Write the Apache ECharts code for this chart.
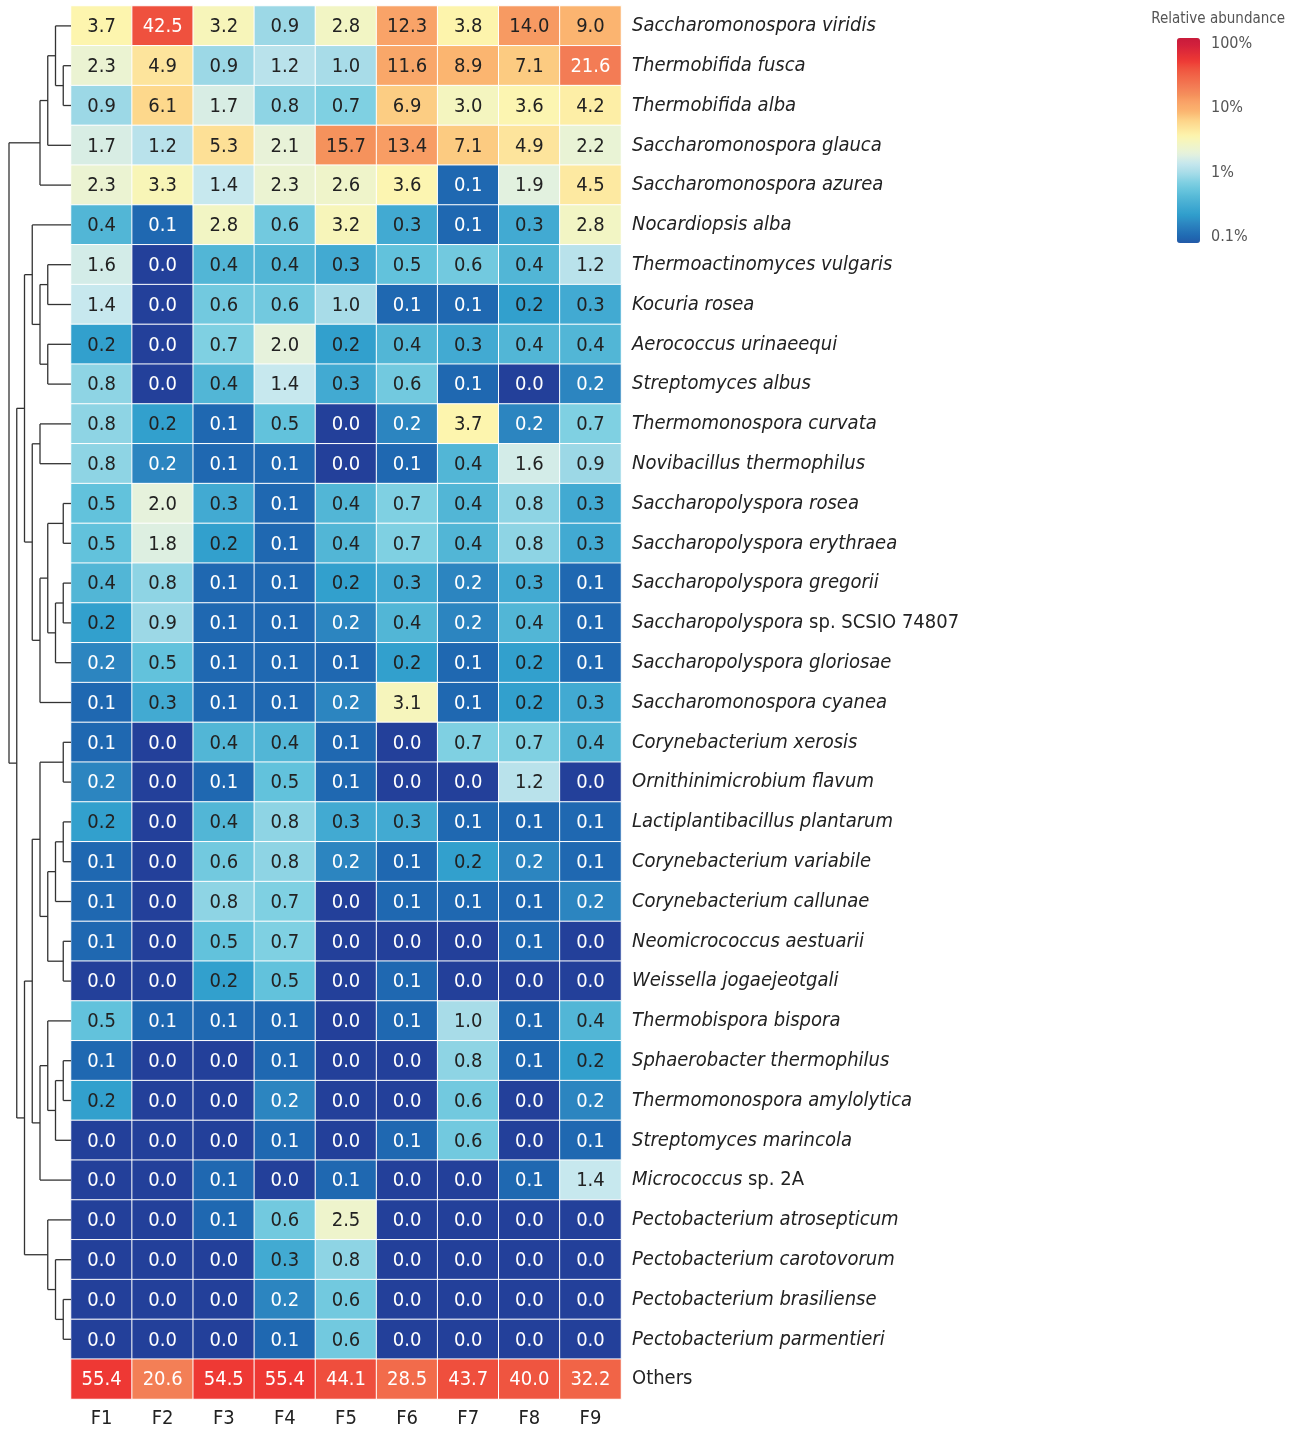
<!DOCTYPE html>
<html>
<head>
<meta charset="utf-8">
<script src="https://cdn.jsdelivr.net/npm/echarts@6/dist/echarts.min.js"></script>
<style>
html,body{margin:0;padding:0;background:#fff;}
#chart{width:1300px;height:1431px;}
</style>
</head>
<body>
<div id="chart"></div>
<script>
// ---------------- DATA ----------------
const samples = ['F1','F2','F3','F4','F5','F6','F7','F8','F9'];
const species = [
  'Saccharomonospora viridis','Thermobifida fusca','Thermobifida alba','Saccharomonospora glauca','Saccharomonospora azurea',
  'Nocardiopsis alba','Thermoactinomyces vulgaris','Kocuria rosea','Aerococcus urinaeequi','Streptomyces albus',
  'Thermomonospora curvata','Novibacillus thermophilus','Saccharopolyspora rosea','Saccharopolyspora erythraea','Saccharopolyspora gregorii',
  'Saccharopolyspora sp. SCSIO 74807','Saccharopolyspora gloriosae','Saccharomonospora cyanea','Corynebacterium xerosis','Ornithinimicrobium flavum',
  'Lactiplantibacillus plantarum','Corynebacterium variabile','Corynebacterium callunae','Neomicrococcus aestuarii','Weissella jogaejeotgali',
  'Thermobispora bispora','Sphaerobacter thermophilus','Thermomonospora amylolytica','Streptomyces marincola','Micrococcus sp. 2A',
  'Pectobacterium atrosepticum','Pectobacterium carotovorum','Pectobacterium brasiliense','Pectobacterium parmentieri','Others'
];
// relative abundance (%) per sample, rows in species order
const F1 = [3.7,2.3,0.9,1.7,2.3,0.4,1.6,1.4,0.23,0.8,
            0.8,0.8,0.5,0.5,0.4,0.23,0.16,0.1,0.1,0.16,
            0.23,0.1,0.1,0.1,0.0,0.5,0.1,0.23,0.0,0.0,
            0.0,0.0,0.0,0.0,55.4];
const F2 = [42.5,4.9,6.1,1.2,3.3,0.1,0.0,0.0,0.0,0.0,
            0.23,0.16,2.0,1.8,0.8,0.9,0.5,0.3,0.0,0.0,
            0.0,0.0,0.0,0.0,0.0,0.1,0.0,0.0,0.0,0.0,
            0.0,0.0,0.0,0.0,20.6];
const F3 = [3.2,0.9,1.7,5.3,1.4,2.8,0.4,0.6,0.7,0.4,
            0.1,0.1,0.3,0.23,0.1,0.1,0.1,0.1,0.4,0.1,
            0.4,0.6,0.8,0.5,0.23,0.1,0.0,0.0,0.0,0.1,
            0.1,0.0,0.0,0.0,54.5];
const F4 = [0.9,1.2,0.8,2.1,2.3,0.6,0.4,0.6,2.0,1.4,
            0.5,0.1,0.1,0.1,0.1,0.1,0.1,0.1,0.4,0.5,
            0.8,0.8,0.7,0.7,0.5,0.1,0.1,0.16,0.1,0.0,
            0.6,0.3,0.16,0.1,55.4];
const F5 = [2.8,1.0,0.7,15.7,2.6,3.2,0.3,1.0,0.23,0.3,
            0.0,0.0,0.4,0.4,0.23,0.16,0.1,0.16,0.1,0.1,
            0.3,0.16,0.0,0.0,0.0,0.0,0.0,0.0,0.0,0.1,
            2.5,0.8,0.6,0.6,44.1];
const F6 = [12.3,11.6,6.9,13.4,3.6,0.3,0.5,0.1,0.4,0.6,
            0.16,0.1,0.7,0.7,0.3,0.4,0.23,3.1,0.0,0.0,
            0.3,0.1,0.1,0.0,0.1,0.1,0.0,0.0,0.1,0.0,
            0.0,0.0,0.0,0.0,28.5];
const F7 = [3.8,8.9,3.0,7.1,0.1,0.1,0.6,0.1,0.3,0.1,
            3.7,0.4,0.4,0.4,0.16,0.16,0.1,0.1,0.7,0.0,
            0.1,0.23,0.1,0.0,0.0,1.0,0.8,0.6,0.6,0.0,
            0.0,0.0,0.0,0.0,43.7];
const F8 = [14.0,7.1,3.6,4.9,1.9,0.3,0.4,0.23,0.4,0.0,
            0.16,1.6,0.8,0.8,0.3,0.4,0.23,0.23,0.7,1.2,
            0.1,0.16,0.1,0.1,0.0,0.1,0.1,0.0,0.0,0.1,
            0.0,0.0,0.0,0.0,40.0];
const F9 = [9.0,21.6,4.2,2.2,4.5,2.8,1.2,0.3,0.4,0.16,
            0.7,0.9,0.3,0.3,0.1,0.1,0.1,0.3,0.4,0.0,
            0.1,0.1,0.16,0.0,0.0,0.4,0.23,0.16,0.1,1.4,
            0.0,0.0,0.0,0.0,32.2];
const legendTicks = [0.1, 1, 10, 100];
// hierarchical clustering of the 34 taxa (Others excluded): [childA, childB, height]
// leaves are 0..33, merged node k gets id 34+k
const linkage = [
  [1,2,1],[0,34,2],[35,3,3],[36,4,4],
  [6,7,3],[8,9,3],[38,39,4],[5,40,5],
  [10,11,4],[12,13,1],[14,15,1],[44,16,2],[43,45,3],[46,17,4],[42,47,5],[41,48,6],
  [18,19,1],[20,21,1],[51,22,2],[23,24,1],[52,53,3],[50,54,4],
  [26,27,1],[56,28,2],[25,57,3],[58,29,4],[55,59,5],
  [32,33,1],[31,61,2],[30,62,3],[60,63,6],
  [49,64,7],[37,65,8]
];

// ---------------- STYLE ----------------
const FONT = "'Liberation Sans Narrow','DejaVu Sans Condensed','Noto Sans',sans-serif";
const colorStops = [
  [-1.3,'#23409a'],[-1.15,'#2650a2'],[-1.0,'#1f68b1'],[-0.8,'#2c84c0'],[-0.66,'#2f9ecc'],
  [-0.52,'#42aad2'],[-0.4,'#52b6d6'],[-0.3,'#62c2dc'],[-0.15,'#80d0e2'],[0,'#a8dce8'],
  [0.15,'#c8e8ee'],[0.3,'#e6f2dc'],[0.45,'#f2f5c4'],[0.57,'#fdf5ae'],[0.7,'#fde39a'],
  [0.8,'#fdd68a'],[0.95,'#fbb570'],[1.1,'#f9a267'],[1.2,'#f5915c'],[1.33,'#f37d55'],
  [1.5,'#f16548'],[1.63,'#ef513e'],[1.74,'#ee3834'],[2.0,'#d01f3c'],[2.1,'#c81b3a']
];
function hex2rgb(h){return [parseInt(h.substr(1,2),16),parseInt(h.substr(3,2),16),parseInt(h.substr(5,2),16)];}
function colorAt(t){
  const s = colorStops;
  if (t <= s[0][0]) return s[0][1];
  if (t >= s[s.length-1][0]) return s[s.length-1][1];
  for (let i=0;i<s.length-1;i++){
    if (t>=s[i][0] && t<=s[i+1][0]){
      const f=(t-s[i][0])/(s[i+1][0]-s[i][0]);
      const a=hex2rgb(s[i][1]), b=hex2rgb(s[i+1][1]);
      const c=a.map((v,k)=>Math.round(v+(b[k]-v)*f));
      return 'rgb('+c.join(',')+')';
    }
  }
}

// ---------------- BUILD ----------------
const columns = [F1,F2,F3,F4,F5,F6,F7,F8,F9];
const heatData = [];
columns.forEach((col, c) => {
  col.forEach((v, r) => {
    const t = Math.min(2.1, Math.max(-1.3, Math.log10(v)));
    const white = (t < -0.72 || t > 1.28);
    heatData.push({
      value: [c, r, v],
      itemStyle: { color: colorAt(t) },
      label: { color: white ? '#ffffff' : '#222222' }
    });
  });
});

// dendrogram segments from linkage
const nLeaves = 34;
const nodePos = {};
for (let i=0;i<nLeaves;i++) nodePos[i] = {x:0, y:i+0.5};
const segs = [];
linkage.forEach((m, k) => {
  const a = nodePos[m[0]], b = nodePos[m[1]], h = m[2];
  segs.push([a.x, a.y, h, a.y]);
  segs.push([b.x, b.y, h, b.y]);
  segs.push([h, a.y, h, b.y]);
  nodePos[nLeaves+k] = {x:h, y:(a.y+b.y)/2};
});

const legMin = -1.093, legMax = 2.093;
const palette = [];
for (let i=0;i<=60;i++) palette.push(colorAt(legMin + (legMax-legMin)*i/60));

function fmtName(n){
  if (n === 'Others') return '{n|Others}';
  const idx = n.indexOf(' sp. ');
  if (idx >= 0) return '{i|' + n.slice(0, idx) + '} {n|' + n.slice(idx+1) + '}';
  return '{i|' + n + '}';
}

const chart = echarts.init(document.getElementById('chart'));
chart.setOption({
  animation: false,
  backgroundColor: '#ffffff',
  title: {
    text: 'Relative abundance', right: 10, top: 7,
    textStyle: {fontFamily: FONT, fontSize: 15, fontWeight: 'normal', color: '#555'}
  },
  grid: [
    {left: 71, top: 6, width: 550, height: 1393},
    {left: 0, top: 6, width: 71, height: 1393},
    {left: 1196, top: 44, width: 4, height: 193}
  ],
  xAxis: [
    {type: 'category', data: samples, gridIndex: 0, position: 'bottom',
     axisLine: {show: false}, axisTick: {show: false}, splitLine: {show: false},
     axisLabel: {fontFamily: FONT, fontSize: 20, color: '#222', margin: 10}},
    {type: 'value', gridIndex: 1, min: 0, max: 71/7.75, inverse: true, show: false},
    {type: 'value', gridIndex: 2, min: 0, max: 1, show: false}
  ],
  yAxis: [
    {type: 'category', data: species, gridIndex: 0, inverse: true, position: 'right',
     axisLine: {show: false}, axisTick: {show: false}, splitLine: {show: false},
     axisLabel: {margin: 11, formatter: fmtName, color: '#222', fontFamily: FONT, fontSize: 20,
       rich: {
         i: {fontFamily: FONT, fontSize: 20, fontStyle: 'italic', color: '#222'},
         n: {fontFamily: FONT, fontSize: 20, fontStyle: 'normal', color: '#222'}
       }}},
    {type: 'value', gridIndex: 1, min: 0, max: species.length, inverse: true, show: false},
    {type: 'log', logBase: 10, gridIndex: 2, min: legendTicks[0], max: legendTicks[legendTicks.length-1],
     position: 'right',
     axisLine: {show: false}, splitLine: {show: false},
     axisTick: {show: true, length: 4, lineStyle: {color: '#333', width: 1}},
     axisLabel: {margin: 11, fontFamily: FONT, fontSize: 16, color: '#555',
       formatter: v => Number(v.toPrecision(3)) + '%'}}
  ],
  visualMap: {
    type: 'continuous', min: legMin, max: legMax, seriesIndex: 2,
    left: 1177, top: 38, itemWidth: 23, itemHeight: 205, padding: 0,
    calculable: false, hoverLink: false, text: null, showLabel: false,
    inRange: {color: palette}
  },
  series: [
    {
      type: 'heatmap', xAxisIndex: 0, yAxisIndex: 0, data: heatData,
      itemStyle: {borderColor: '#ffffff', borderWidth: 1},
      label: {show: true, fontFamily: FONT, fontSize: 20, offset: [0, 1],
        formatter: p => p.data.value[2].toFixed(1)},
      emphasis: {disabled: true}
    },
    {
      type: 'custom', xAxisIndex: 1, yAxisIndex: 1, data: segs,
      encode: {x: [0, 2], y: [1, 3]},
      renderItem: function(params, api){
        const p1 = api.coord([api.value(0), api.value(1)]);
        const p2 = api.coord([api.value(2), api.value(3)]);
        return {type: 'line', shape: {x1: p1[0], y1: p1[1], x2: p2[0], y2: p2[1]},
                style: {stroke: '#333', lineWidth: 1.3}};
      },
      silent: true
    },
    {type: 'scatter', xAxisIndex: 2, yAxisIndex: 2, data: [], silent: true}
  ]
});
</script>
</body>
</html>
